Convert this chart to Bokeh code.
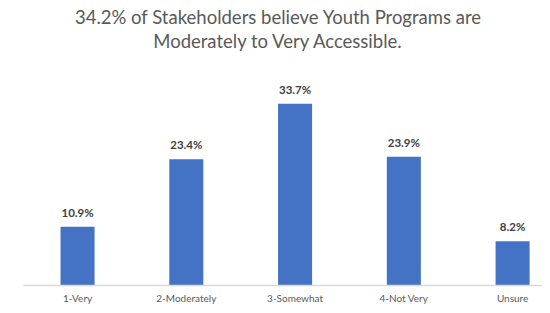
from bokeh.plotting import figure
from bokeh.models import ColumnDataSource, Range1d, FixedTicker, LabelSet
from bokeh.core.properties import value
from bokeh.embed import file_html
from bokeh.resources import INLINE

categories = ["1-Very", "2-Moderately", "3-Somewhat", "4-Not Very", "Unsure"]
percent = [10.9, 23.4, 33.7, 23.9, 8.2]
title_lines = ["34.2% of Stakeholders believe Youth Programs are",
               "Moderately to Very Accessible."]

xs = list(range(len(categories)))
src = ColumnDataSource(dict(x=xs, top=percent,
                            label=[f"{v:.1f}%" for v in percent]))

p = figure(width=542, height=306, output_backend="svg", toolbar_location=None,
           x_range=Range1d(-0.497, 4.275), y_range=Range1d(0, 52.87),
           y_axis_location=None,
           min_border_left=23, min_border_right=0, min_border_bottom=0,
           min_border_top=0)

p.vbar(x="x", top="top", bottom=0, width=0.313, source=src,
       fill_color="#4472C4", line_color=None)

labels = LabelSet(x="x", y="top", text="label", source=src,
                  text_align="center", text_baseline="bottom", y_offset=8,
                  text_font=value("Lato"), text_font_size=value("11.5px"),
                  text_font_style="bold", text_color="#404040")
p.add_layout(labels)

# chart title (two centred lines at the top of the plot area)
title_src = ColumnDataSource(dict(x=[1.848, 1.848], y=[49.72, 45.29],
                                  text=title_lines))
p.text(x="x", y="y", text="text", source=title_src,
       text_align="center", text_baseline="middle",
       text_font=value("Lato"), text_font_size=value("18.5px"),
       text_color="#595959")

ax = p.xaxis[0]
ax.ticker = FixedTicker(ticks=xs)
ax.major_label_overrides = {i: c for i, c in zip(xs, categories)}
ax.major_tick_line_color = None
ax.major_tick_out = 0
ax.major_tick_in = 0
ax.minor_tick_line_color = None
ax.minor_tick_out = 0
ax.axis_line_color = "#D9D9D9"
ax.axis_line_width = 1.5
ax.major_label_text_font = "Lato"
ax.major_label_text_font_size = "10px"
ax.major_label_text_color = "#595959"
ax.major_label_standoff = 6

p.xgrid.grid_line_color = None
p.ygrid.grid_line_color = None
p.outline_line_color = None
p.background_fill_color = "white"
p.border_fill_color = "white"

open("out.html", "w").write(file_html(p, INLINE))
